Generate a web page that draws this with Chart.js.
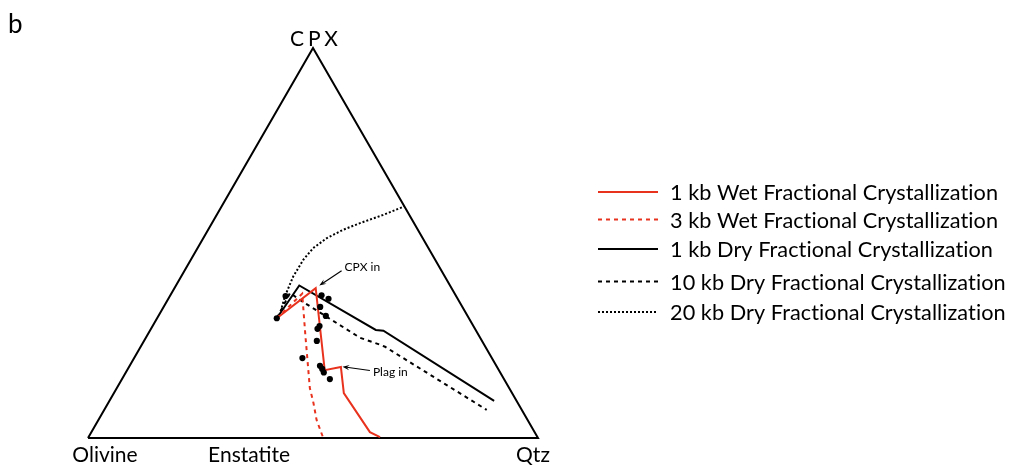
<!DOCTYPE html>
<html>
<head>
<meta charset="utf-8">
<script src="https://cdn.jsdelivr.net/npm/chart.js@4.4.1/dist/chart.umd.min.js"></script>
<style>
  html, body { margin: 0; padding: 0; background: #ffffff; }
  #wrap { width: 1016px; height: 466px; position: relative; }
</style>
</head>
<body>
<div id="wrap"><canvas id="c" width="1016" height="466"></canvas></div>
<script>
// Ternary compositions: CPX and Qtz end-member percentages (Olivine = 100 - CPX - Qtz)
const seriesNames = [
  '1 kb Wet Fractional Crystallization',
  '3 kb Wet Fractional Crystallization',
  '1 kb Dry Fractional Crystallization',
  '10 kb Dry Fractional Crystallization',
  '20 kb Dry Fractional Crystallization'
];

const wet1kbCpx = [30.7, 38.4, 17.4, 18.2, 11.5, 1.5, 0.2];
const wet1kbQtz = [26.6, 31.4, 43.9, 47.1, 51.1, 61.9, 64.8];

const wet3kbCpx = [30.7, 37.0, 26.4, 12.8, 9.0, 4.6, 0.1];
const wet3kbQtz = [26.6, 29.1, 35.1, 42.9, 45.6, 48.5, 52.2];

const dry1kbCpx = [30.7, 39.1, 27.7, 27.5, 9.5];
const dry1kbQtz = [26.6, 27.4, 50.1, 51.9, 85.5];

const dry10kbCpx = [30.7, 37.2, 35.4, 25.7, 23.9, 23.4, 7.2];
const dry10kbQtz = [26.6, 26.3, 29.4, 47.6, 53.0, 54.3, 85.0];

const dry20kbCpx = [30.7, 32.0, 36.3, 41.4, 45.7, 48.7, 51.2, 53.4, 55.1, 57.2, 59.4];
const dry20kbQtz = [26.6, 26.7, 25.6, 24.9, 25.0, 25.7, 27.4, 30.0, 32.9, 37.0, 40.6];

// Analysed samples
const sampleCpx = [30.7, 36.4, 36.6, 35.7, 33.6, 31.3, 28.7, 28.0, 24.9, 20.5, 18.5, 17.7, 16.8, 15.1];
const sampleQtz = [26.6, 25.7, 33.6, 35.6, 34.8, 37.2, 37.1, 37.0, 38.4, 37.4, 42.3, 43.2, 44.0, 46.2];

// Triangle corners: Olivine, Qtz, CPX
const frameCpx = [0, 0, 100, 0];
const frameQtz = [0, 100, 0, 0];

// Corner / join labels and their positions along the diagram
const apexLabels = ['Olivine', 'Enstatite', 'Qtz', 'CPX'];
const apexLabelCpx = [0, 0, 0, 100];
const apexLabelQtz = [0, 35.8, 100, 0];

// Phase-in annotations (arrow tail -> tip)
const noteText = ['CPX in', 'Plag in'];
const noteTipCpx = [39.1, 18.3];
const noteTipQtz = [31.85, 47.4];
const noteTailCpx = [42.9, 17.3];
const noteTailQtz = [34.9, 54.0];

const H = Math.sqrt(3) / 2;
function toXY(cpx, qtz) {
  return cpx.map((c, i) => ({ x: qtz[i] + c / 2, y: c * H }));
}

const RED = '#e8321e';
const FONT = 'Lato, "Open Sans", sans-serif';

const datasets = [
  { label: 'samples', data: toXY(sampleCpx, sampleQtz), showLine: false,
    pointRadius: 3.1, pointBackgroundColor: '#000', pointBorderWidth: 0, legend: false },
  { label: seriesNames[0], data: toXY(wet1kbCpx, wet1kbQtz), borderColor: RED, borderWidth: 2, legend: true },
  { label: seriesNames[1], data: toXY(wet3kbCpx, wet3kbQtz), borderColor: RED, borderWidth: 2, borderDash: [4, 4], legend: true },
  { label: seriesNames[2], data: toXY(dry1kbCpx, dry1kbQtz), borderColor: '#000', borderWidth: 2, legend: true },
  { label: seriesNames[3], data: toXY(dry10kbCpx, dry10kbQtz), borderColor: '#000', borderWidth: 2, borderDash: [4, 4], legend: true },
  { label: seriesNames[4], data: toXY(dry20kbCpx, dry20kbQtz), borderColor: '#000', borderWidth: 2, borderDash: [2, 2], legend: true },
  { label: 'frame', data: toXY(frameCpx, frameQtz), borderColor: '#000', borderWidth: 2, legend: false }
].map(d => Object.assign({ showLine: true, pointRadius: 0, fill: false, tension: 0, clip: false,
  borderJoinStyle: 'miter' }, d));

function arrow(ctx, x0, y0, x1, y1) {
  const a = Math.atan2(y1 - y0, x1 - x0);
  const len = 7, wid = 2.6;
  ctx.beginPath();
  ctx.moveTo(x0, y0);
  ctx.lineTo(x1 - Math.cos(a) * len * 0.6, y1 - Math.sin(a) * len * 0.6);
  ctx.stroke();
  ctx.beginPath();
  ctx.moveTo(x1, y1);
  ctx.lineTo(x1 - Math.cos(a) * len - Math.sin(a) * wid, y1 - Math.sin(a) * len + Math.cos(a) * wid);
  ctx.lineTo(x1 - Math.cos(a) * len * 0.6, y1 - Math.sin(a) * len * 0.6);
  ctx.lineTo(x1 - Math.cos(a) * len + Math.sin(a) * wid, y1 - Math.sin(a) * len - Math.cos(a) * wid);
  ctx.closePath();
  ctx.fill();
}

const decor = {
  id: 'decor',
  afterDraw(chart) {
    const ctx = chart.ctx;
    const xs = chart.scales.x, ys = chart.scales.y;
    const px = (c, q) => xs.getPixelForValue(q + c / 2);
    const py = (c) => ys.getPixelForValue(c * H);
    ctx.save();
    ctx.fillStyle = '#000';
    ctx.strokeStyle = '#000';

    // panel letter
    ctx.font = '26px ' + FONT;
    ctx.textAlign = 'left';
    ctx.textBaseline = 'alphabetic';
    ctx.fillText('b', 8, 33);

    // corner labels
    ctx.font = '21px ' + FONT;
    ctx.textAlign = 'center';
    apexLabels.forEach((t, i) => {
      const x = px(apexLabelCpx[i], apexLabelQtz[i]);
      const y = py(apexLabelCpx[i]);
      if (t === 'CPX') {
        ctx.letterSpacing = '4px';
        ctx.fillText(t, x + 3, y - 2);
        ctx.letterSpacing = '0px';
      } else if (i === 0) {
        ctx.fillText(t, x + 17, y + 24);
      } else if (i === 2) {
        ctx.fillText(t, x - 5, y + 24);
      } else {
        ctx.fillText(t, x, y + 24);
      }
    });

    // phase-in arrows
    ctx.lineWidth = 1.2;
    ctx.font = '12px ' + FONT;
    ctx.textAlign = 'left';
    const textOff = [[3, 0], [3, 5]];
    noteText.forEach((t, i) => {
      const x0 = px(noteTailCpx[i], noteTailQtz[i]), y0 = py(noteTailCpx[i]);
      const x1 = px(noteTipCpx[i], noteTipQtz[i]), y1 = py(noteTipCpx[i]);
      arrow(ctx, x0, y0, x1, y1);
      ctx.fillText(t, x0 + textOff[i][0], y0 + textOff[i][1]);
    });

    // legend (tiny tracking keeps the "ti" pairs as separate glyphs)
    const rows = [192, 219.5, 249, 281.5, 312];
    ctx.font = '21.7px ' + FONT;
    ctx.letterSpacing = '0.05px';
    const items = chart.data.datasets.filter(d => d.legend);
    items.forEach((d, i) => {
      const y = rows[i];
      ctx.save();
      ctx.strokeStyle = d.borderColor;
      ctx.lineWidth = d.borderWidth;
      ctx.setLineDash(d.borderDash || []);
      ctx.beginPath();
      ctx.moveTo(598, y);
      ctx.lineTo(658, y);
      ctx.stroke();
      ctx.restore();
      ctx.fillText(d.label, 670, y + 8);
    });
    ctx.letterSpacing = '0px';
    ctx.restore();
  }
};

new Chart(document.getElementById('c'), {
  type: 'scatter',
  data: { datasets },
  options: {
    responsive: false,
    animation: false,
    layout: { padding: { left: 88, right: 478, top: 48, bottom: 28 } },
    scales: {
      x: { type: 'linear', min: 0, max: 100, display: false },
      y: { type: 'linear', min: 0, max: 100 * H, display: false }
    },
    plugins: { legend: { display: false }, tooltip: { enabled: false } }
  },
  plugins: [decor]
});
</script>
</body>
</html>
